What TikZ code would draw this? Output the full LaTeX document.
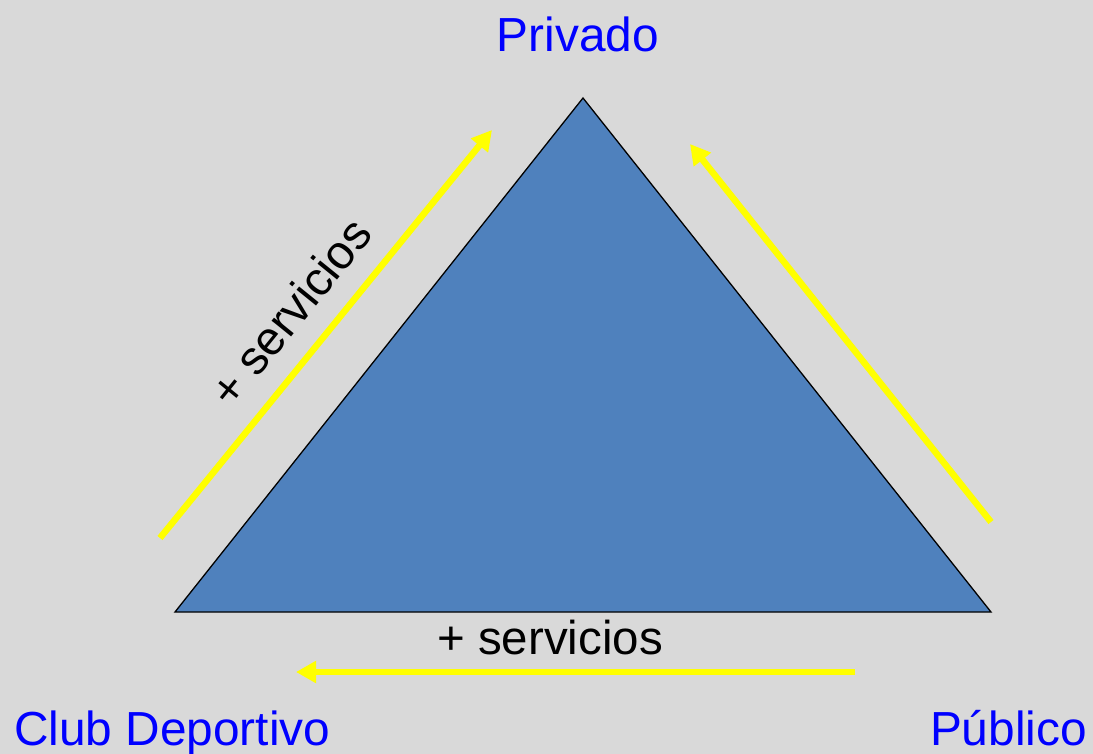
\documentclass[tikz,border=0pt]{standalone}
\usepackage{fontspec}
\setmainfont{Liberation Sans}
\usetikzlibrary{arrows.meta}
\definecolor{bgcol}{HTML}{D9D9D9}
\definecolor{trifill}{HTML}{4F81BD}
\definecolor{ylw}{HTML}{FFFF00}
\definecolor{bluetxt}{HTML}{0000FF}
\begin{document}
\begin{tikzpicture}[x=1pt,y=-1pt,
  corner/.style={text=bluetxt,font=\fontsize{47.8}{52}\selectfont,inner sep=0pt},
  lbl/.style={text=black,font=\fontsize{47.5}{52}\selectfont,inner sep=0pt},
  yarrow/.style={draw=ylw,line width=6.5pt,-{Triangle[length=20pt,width=21pt]}}]
\fill[bgcol] (0,0) rectangle (1093,754);
\useasboundingbox (0,0) rectangle (1093,754);
\coordinate (top) at (583,98);
\coordinate (bl) at (175,612);
\coordinate (br) at (991,612);
\filldraw[fill=trifill,draw=black,line width=1.3pt,line join=miter] (top) -- (bl) -- (br) -- cycle;
\coordinate (l1) at (160,538);
\coordinate (l2) at (492,130);
\coordinate (r1) at (991,522);
\coordinate (r2) at (690,144);
\coordinate (b1) at (855,672);
\coordinate (b2) at (296,672);
\draw[yarrow] (l1) -- (l2);
\draw[yarrow] (r1) -- (r2);
\draw[yarrow] (b1) -- (b2);
\node[corner,anchor=base] (priv) at (578,52) {Privado};
\node[corner,anchor=base west] (club) at (14,745) {Club Deportivo};
\node[corner,anchor=base east] (pub) at (1087,745) {Público};
\node[lbl,anchor=base] (sb) at (550,654) {+ servicios};
\node[lbl,rotate=51] (sl) at (290,312) {+ servicios};
\end{tikzpicture}
\end{document}
